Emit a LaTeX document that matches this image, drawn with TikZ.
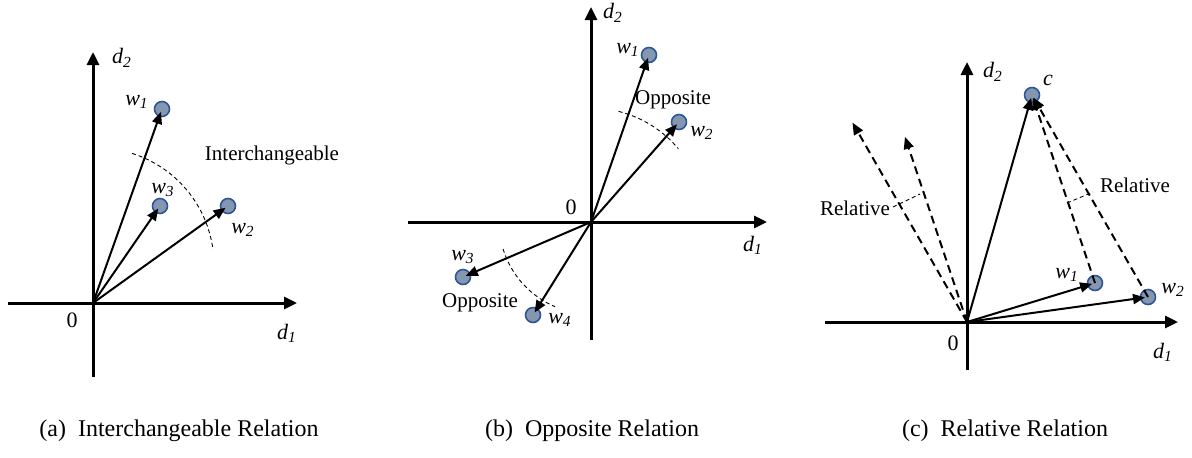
\documentclass[tikz,border=0pt]{standalone}
\usepackage{fontspec}
\setmainfont{Liberation Serif}
\usetikzlibrary{arrows.meta, calc}
\definecolor{DotFill}{HTML}{8497B0}
\definecolor{DotLine}{HTML}{2F5597}
\newcommand{\vlab}[2]{\textit{#1}\textsubscript{\textit{#2}}}

\begin{document}
\begin{tikzpicture}[
    x=0.5pt, y=-0.5pt,
    axis/.style={line width=1.5pt, -{Triangle[length=6.5pt, width=6pt]}},
    vec/.style={line width=1pt, shorten >=1.5pt,
        -{Triangle[length=6pt, width=5pt]}},
    dvec/.style={vec, dash pattern=on 4pt off 2.5pt},
    dot/.style={circle, draw=DotLine, fill=DotFill, line width=0.8pt,
        minimum size=7.5pt, inner sep=0pt},
    lbl/.style={font=\fontsize{11}{13}\selectfont, inner sep=1pt},
    note/.style={font=\fontsize{10.5}{12}\selectfont, inner sep=1pt},
    arcline/.style={line width=0.45pt, dash pattern=on 2pt off 1.5pt},
    subcap/.style={font=\fontsize{12}{14}\selectfont}
]
\useasboundingbox (0,0) rectangle (1192,457);

% ===================================================================
% (a) INTERCHANGEABLE
% ===================================================================
\coordinate (oa) at (93,303);
\coordinate (xa0) at (8,303);
\coordinate (xa1) at (297,303);
\coordinate (ya0) at (93,377);
\coordinate (ya1) at (93,52);
\draw[axis] (xa0) -- (xa1);
\draw[axis] (ya0) -- (ya1);
\node[lbl] (za) at (72,320) {0};
\node[lbl] (d1a) at (287,333) {\vlab{d}{1}};
\node[lbl] (d2a) at (122,58) {\vlab{d}{2}};

\node[dot] (wa1) at (162,109) {};
\node[dot] (wa3) at (160,206) {};
\node[dot] (wa2) at (228,206) {};
\node[lbl] (la1) at (137,102) {\vlab{w}{1}};
\node[lbl] (la3) at (163,190) {\vlab{w}{3}};
\node[lbl] (la2) at (243,230) {\vlab{w}{2}};

\draw[vec] (oa) -- (wa1.center);
\draw[vec] (oa) -- (wa3.center);
\draw[vec] (oa) -- (wa2.center);

\draw[arcline] (97,265) ++(-72.6:117) arc[start angle=-72.6, end angle=-7.4, radius=117];
\node[note] (inter) at (272,155) {Interchangeable};

\node[subcap] (capa) at (179,431) {(a)\enspace Interchangeable Relation};

% ===================================================================
% (b) OPPOSITE
% ===================================================================
\coordinate (ob) at (591,222);
\coordinate (xb0) at (408,222);
\coordinate (xb1) at (767,222);
\coordinate (yb0) at (591,340);
\coordinate (yb1) at (591,7);
\draw[axis] (xb0) -- (xb1);
\draw[axis] (yb0) -- (yb1);
\node[lbl] (zb) at (571,207) {0};
\node[lbl] (d1b) at (753,245) {\vlab{d}{1}};
\node[lbl] (d2b) at (613,13) {\vlab{d}{2}};

\node[dot] (wb1) at (649,55) {};
\node[dot] (wb2) at (679,122) {};
\node[dot] (wb3) at (463,277) {};
\node[dot] (wb4) at (533,315) {};
\node[lbl] (lb1) at (628,50) {\vlab{w}{1}};
\node[lbl] (lb2) at (702,133) {\vlab{w}{2}};
\node[lbl] (lb3) at (463,257) {\vlab{w}{3}};
\node[lbl] (lb4) at (560,320) {\vlab{w}{4}};

\draw[vec] (ob) -- (wb1.center);
\draw[vec] (ob) -- (wb2.center);
\draw[vec] (ob) -- (wb3.center);
\draw[vec] (ob) -- (wb4.center);

\draw[arcline] (ob) ++(-76:114) arc[start angle=-76, end angle=-40, radius=114];
\draw[arcline] (ob) ++(163:92) arc[start angle=163, end angle=113, radius=92];
\node[note] (oppu) at (673,100) {Opposite};
\node[note] (oppl) at (480,303) {Opposite};

\node[subcap] (capb) at (592,431) {(b)\enspace Opposite Relation};

% ===================================================================
% (c) RELATIVE
% ===================================================================
\coordinate (oc) at (967,322);
\coordinate (xc0) at (825,322);
\coordinate (xc1) at (1178,322);
\coordinate (yc0) at (967,370);
\coordinate (yc1) at (967,62);
\draw[axis] (xc0) -- (xc1);
\draw[axis] (yc0) -- (yc1);
\node[lbl] (zc) at (953,343) {0};
\node[lbl] (d1c) at (1163,352) {\vlab{d}{1}};
\node[lbl] (d2c) at (993,72) {\vlab{d}{2}};

\node[dot] (cc) at (1032,95) {};
\node[dot] (wc1) at (1095,283) {};
\node[dot] (wc2) at (1148,297) {};
\node[lbl] (lc) at (1048,80) {\textit{c}};
\node[lbl] (lc1) at (1067,275) {\vlab{w}{1}};
\node[lbl] (lc2) at (1173,290) {\vlab{w}{2}};

\coordinate (rc1) at (904,134);
\coordinate (rc2) at (851,120);

\draw[vec] (oc) -- (cc.center);
\draw[vec] (oc) -- (wc1.center);
\draw[vec] (oc) -- (wc2.center);
\draw[dvec] (wc1.center) -- (cc.center);
\draw[dvec] (wc2.center) -- (cc.center);
\draw[dvec] (oc) -- (rc1);
\draw[dvec] (oc) -- (rc2);

\draw[arcline] (893,207) -- (920,194);
\draw[arcline] (1067,203) -- (1093,192);
\node[note] (rell) at (855,208) {Relative};
\node[note] (relr) at (1135,185) {Relative};

\node[subcap] (capc) at (1005,431) {(c)\enspace Relative Relation};

\end{tikzpicture}
\end{document}
